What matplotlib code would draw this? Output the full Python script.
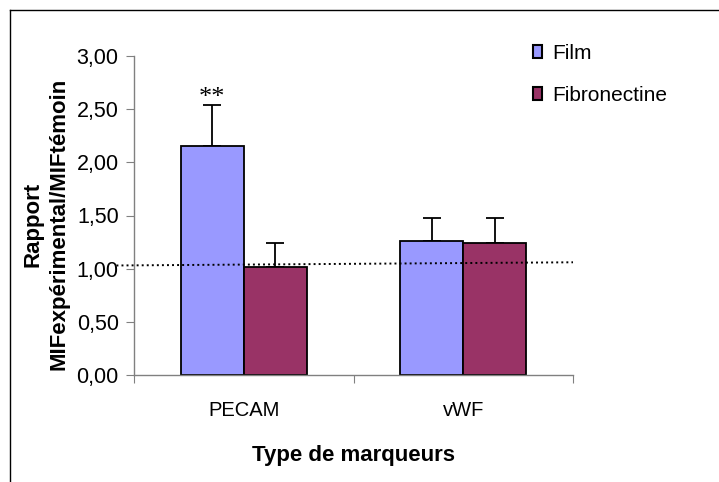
import matplotlib.pyplot as plt
import numpy as np
from matplotlib.lines import Line2D

categories = ['PECAM', 'vWF']
film = [2.15, 1.26]
fibronectine = [1.02, 1.24]
film_err = [0.39, 0.22]
fibro_err = [0.22, 0.24]
ref_line = [1.03, 1.06]
y_ticks = [0.0, 0.5, 1.0, 1.5, 2.0, 2.5, 3.0]

plt.rcParams['font.family'] = ['Liberation Sans', 'DejaVu Sans']

fig = plt.figure(figsize=(7.19, 4.82), dpi=100)
W, H = 719, 482
ax = fig.add_axes([134 / W, 1 - 375 / H, 439 / W, (375 - 56) / H])

x = np.arange(len(categories))
bw = 0.287
ax.bar(x - bw / 2, film, bw, color='#9999ff', edgecolor='black', linewidth=1.3, label='Film', zorder=2)
ax.bar(x + bw / 2, fibronectine, bw, color='#993366', edgecolor='black', linewidth=1.3, label='Fibronectine', zorder=2)
ax.errorbar(x - bw / 2, film, yerr=[[0, 0], film_err], fmt='none', ecolor='black',
            elinewidth=1.3, capsize=6.5, capthick=1.3, zorder=1)
ax.errorbar(x + bw / 2, fibronectine, yerr=[[0, 0], fibro_err], fmt='none', ecolor='black',
            elinewidth=1.3, capsize=6.5, capthick=1.3, zorder=1)

# reference dotted line (slightly tilted, extends left of axis)
ax.plot([-0.58, 1.5], ref_line, color='black', linestyle=(0, (1, 1.6)), linewidth=1.4,
        clip_on=False, zorder=3)

ax.text(x[0] - bw / 2, film[0] + film_err[0] - 0.04, '**', ha='center', va='bottom',
        fontsize=19, family='Liberation Serif')

ax.set_xlim(-0.5, 1.5)
ax.set_ylim(0, 3)
ax.set_yticks(y_ticks)
ax.set_yticklabels([f'{v:.2f}'.replace('.', ',') for v in y_ticks], fontsize=15.5)
ax.set_xticks([-0.5, 0.5, 1.5])
ax.set_xticklabels([])
ax.set_xticks(x, minor=True)
ax.set_xticklabels(categories, minor=True, fontsize=14.5)
ax.tick_params(axis='x', which='minor', length=0, pad=19)
ax.tick_params(axis='x', which='major', length=6, color='#808080', direction='out')
ax.tick_params(axis='y', length=6, color='#808080', direction='out', pad=5)
for s in ['top', 'right']:
    ax.spines[s].set_visible(False)
for s in ['left', 'bottom']:
    ax.spines[s].set_color('#808080')
    ax.spines[s].set_linewidth(1.0)

ax.set_xlabel('Type de marqueurs', fontsize=16, fontweight='bold', labelpad=18)
ax.set_ylabel('Rapport\nMIFexpérimental/MIFtémoin', fontsize=16, fontweight='bold',
              linespacing=1.35)
ax.yaxis.set_label_coords(-0.146, 0.473)

handles = [
    plt.Rectangle((0, 0), 1, 1, facecolor='#9999ff', edgecolor='black', linewidth=1.5),
    plt.Rectangle((0, 0), 1, 1, facecolor='#993366', edgecolor='black', linewidth=1.5),
]
fig.legend(handles, ['Film', 'Fibronectine'], loc='upper left', bbox_to_anchor=(533 / W, 1 - 44 / H),
           frameon=False, fontsize=15, handlelength=0.45, handleheight=0.6, handletextpad=0.45,
           labelspacing=1.1, borderpad=0, borderaxespad=0)

# outer frame
fig.add_artist(Line2D([10 / W, 10 / W], [0, 1 - 10 / H], color='black', linewidth=1))
fig.add_artist(Line2D([10 / W, 1], [1 - 10 / H, 1 - 10 / H], color='black', linewidth=1))

fig.savefig('out.png', dpi=100)
